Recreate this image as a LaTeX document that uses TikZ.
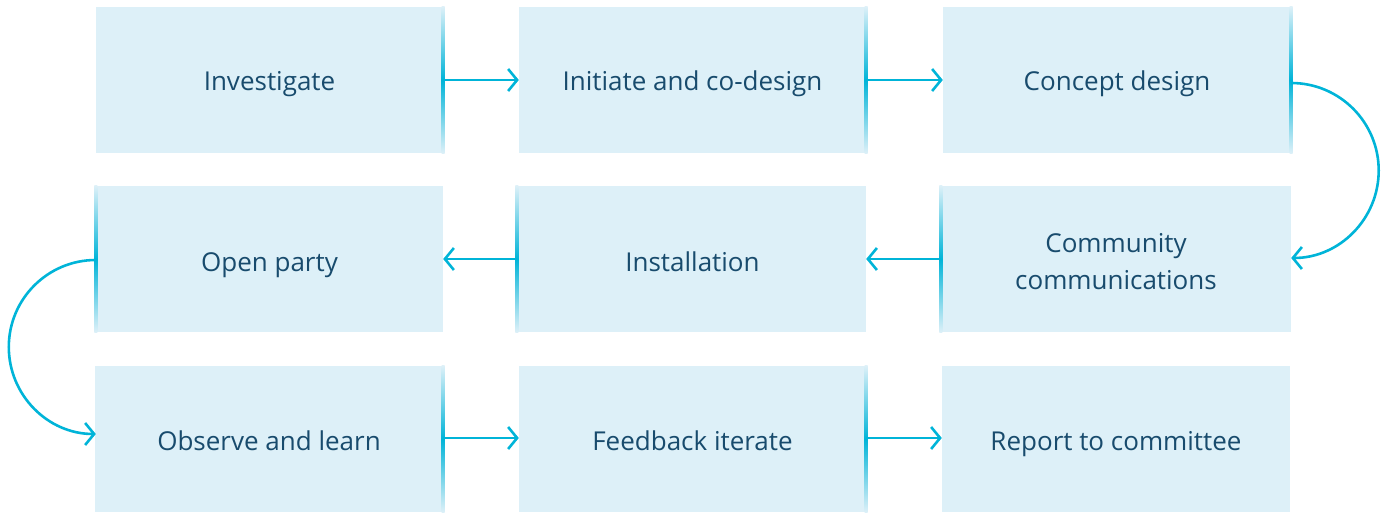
\documentclass[tikz,border=0pt]{standalone}
\usepackage{fontspec}
\setmainfont{Open Sans}
\usetikzlibrary{arrows.meta,calc}
\definecolor{boxfill}{HTML}{DDF0F8}
\definecolor{arrowc}{HTML}{00B4D8}
\definecolor{textc}{HTML}{184B6D}
\tikzset{
  box/.style={fill=boxfill, draw=none, minimum height=146pt, inner sep=0pt},
  lbl/.style={text=textc, font=\fontsize{26}{37}\selectfont, align=center, inner sep=0pt},
  flow/.style={draw=arrowc, line width=2.6pt, -{Straight Barb[length=9pt,width=22pt,line width=2.6pt]}},
}
\newcommand{\edgefade}[2]{%
  \shade[top color=boxfill, bottom color=boxfill, middle color=arrowc]
    ($(#1.north #2)+(-1.5pt,0)$) rectangle ($(#1.south #2)+(1.5pt,0)$);}
\begin{document}
\begin{tikzpicture}[x=1pt,y=-1pt]
\useasboundingbox (0,0) rectangle (1387,513);
% row 1
\node[box, minimum width=347pt] (b1) at (269.5,80) {};
\node[box, minimum width=347pt] (b2) at (692.5,80) {};
\node[box, minimum width=348pt] (b3) at (1117,80) {};
% row 2
\node[box, minimum width=347pt] (b6) at (269.5,259) {};
\node[box, minimum width=349pt] (b5) at (691.5,259) {};
\node[box, minimum width=350pt] (b4) at (1116,259) {};
% row 3
\node[box, minimum width=348pt] (b7) at (269,439) {};
\node[box, minimum width=347pt] (b8) at (692.5,439) {};
\node[box, minimum width=348pt] (b9) at (1116,439) {};
% labels (baseline placed)
\node[lbl, anchor=base] (t1) at (269.5,91) {Investigate};
\node[lbl, anchor=base] (t2) at (692.5,91) {Initiate and co-design};
\node[lbl, anchor=base] (t3) at (1117,91) {Concept design};
\node[lbl, anchor=base] (t6) at (269.5,271) {Open party};
\node[lbl, anchor=base] (t5) at (692.5,271) {Installation};
\node[lbl, anchor=base] (t4a) at (1116,252) {Community};
\node[lbl, anchor=base] (t4b) at (1116,289) {communications};
\node[lbl, anchor=base] (t7) at (269,450) {Observe and learn};
\node[lbl, anchor=base] (t8) at (692.5,450) {Feedback iterate};
\node[lbl, anchor=base] (t9) at (1116,450) {Report to committee};
% edge fades
\edgefade{b1}{east}
\edgefade{b2}{east}
\edgefade{b3}{east}
\edgefade{b4}{west}
\edgefade{b5}{west}
\edgefade{b6}{west}
\edgefade{b7}{east}
\edgefade{b8}{east}
% arrows
\draw[flow] (b1.east) -- (b2.west);
\draw[flow] (b2.east) -- (b3.west);
\draw[flow] ($(b3.east)+(0,3)$) arc[start angle=90, end angle=-90, radius=87.5pt];
\draw[flow] (b4.west) -- (b5.east);
\draw[flow] (b5.west) -- (b6.east);
\draw[flow] ($(b6.west)+(0,1)$) arc[start angle=90, end angle=270, radius=87pt];
\draw[flow] ($(b7.east)+(0,-1)$) -- ($(b8.west)+(0,-1)$);
\draw[flow] ($(b8.east)+(0,-1)$) -- ($(b9.west)+(0,-1)$);
\end{tikzpicture}
\end{document}
